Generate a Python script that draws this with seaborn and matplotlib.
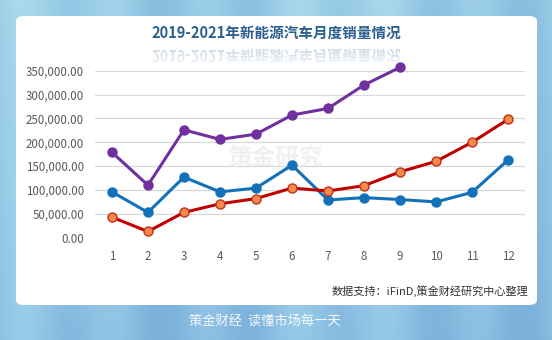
import numpy as np
import pandas as pd
import matplotlib
matplotlib.use("Agg")
import matplotlib.pyplot as plt
from matplotlib.patches import FancyBboxPatch
import seaborn as sns

months = list(range(1, 13))
sales_2019 = [96000, 53000, 127000, 96000, 104000, 152000, 79000, 84000, 80000, 75000, 95000, 163000]
sales_2020 = [43000, 13000, 53000, 71000, 82000, 104000, 98000, 109000, 138000, 160000, 200000, 248000]
sales_2021 = [179000, 110000, 226000, 206000, 217000, 257000, 271000, 320000, 357000]
yticks = [0, 50000, 100000, 150000, 200000, 250000, 300000, 350000]
title = "2019-2021年新能源汽车月度销量情况"
source = "数据支持：iFinD,策金财经研究中心整理"
slogan = "策金财经  读懂市场每一天"
watermark = "策金研究"

sns.set_theme(style="white")
plt.rcParams['font.family'] = ['Noto Sans CJK SC', 'DejaVu Sans']

W, H = 552, 340
TITLE_FS = 10.5
TITLE_COLOR = '#2B5F8E'

# --- reflection of the title, rendered off-screen and flipped
tmp = plt.figure(figsize=(W / 100, 0.3), dpi=100)
tmp.patch.set_alpha(0)
tmp.text(0.5, 0.5, title, ha='center', va='center', fontsize=TITLE_FS,
         fontweight='bold', color=TITLE_COLOR)
tmp.canvas.draw()
refl = np.asarray(tmp.canvas.buffer_rgba()).astype(float) / 255.0
plt.close(tmp)
refl = refl[::-1].copy()
rh = refl.shape[0]
fade = np.linspace(0.35, 0.0, rh)[:, None]
refl[:, :, 3] *= fade

fig = plt.figure(figsize=(W / 100, H / 100), dpi=100)

# background gradient
bg = fig.add_axes([0, 0, 1, 1], zorder=0)
xs = np.linspace(0, 1, W)
ys = np.linspace(0, 1, H)
base = np.array([0.60, 0.80, 0.90])
stripe = 0.04 * np.sin(xs * 38) + 0.03 * np.sin(xs * 11 + 1.0)
img = np.zeros((H, W, 3))
for c in range(3):
    img[:, :, c] = base[c] + stripe[None, :] * (0.8 if c < 2 else 0.4) - 0.06 * ys[:, None] * (1 if c < 2 else 0.3)
img = np.clip(img, 0, 1)
bg.imshow(img, aspect='auto', extent=[0, 1, 0, 1])
bg.set_axis_off()

# white card
card = FancyBboxPatch((16 / W, (H - 305) / H), (537 - 16) / W, (305 - 16) / H,
                      boxstyle="round,pad=0,rounding_size=0.015",
                      transform=fig.transFigure, facecolor="white", edgecolor="none", zorder=1)
fig.patches.append(card)

# title
fig.text(0.5, 1 - 33 / H, title, ha='center', va='center', fontsize=TITLE_FS,
         fontweight='bold', color=TITLE_COLOR, zorder=3)

ax = fig.add_axes([95 / W, (H - 237.7) / H, (525 - 95) / W, (237.7 - 70.7) / H], zorder=2)
ax.patch.set_alpha(0)

df = pd.concat([
    pd.DataFrame({'month': months, 'sales': sales_2019, 'year': '2019'}),
    pd.DataFrame({'month': months, 'sales': sales_2020, 'year': '2020'}),
    pd.DataFrame({'month': months[:len(sales_2021)], 'sales': sales_2021, 'year': '2021'}),
])

styles = {
    '2019': dict(color='#1271B8', markerfacecolor='#1271B8', markeredgecolor='#1271B8'),
    '2020': dict(color='#C00000', markerfacecolor='#F58A4B', markeredgecolor='#C0301A'),
    '2021': dict(color='#7030A0', markerfacecolor='#7030A0', markeredgecolor='#7030A0'),
}
for yr in ['2021', '2019', '2020']:
    d = df[df.year == yr]
    sns.lineplot(data=d, x='month', y='sales', ax=ax, marker='o', markersize=6.5,
                 linewidth=2.2, markeredgewidth=1, legend=False, clip_on=False, **styles[yr])

ax.set_xlim(0.53, 12.47)
ax.set_ylim(0, 350000)
ax.set_yticks(yticks)
ax.set_yticklabels([f"{v:,.2f}" for v in yticks])
ax.set_xticks(months)
ax.set_xticklabels([str(m) for m in months])
ax.grid(axis='y', color='#D9D9D9', linewidth=0.9)
ax.set_axisbelow(True)
for s in ax.spines.values():
    s.set_visible(False)
ax.tick_params(axis='both', length=0, labelsize=8.3, labelcolor='#595959')
ax.tick_params(axis='y', pad=8)
ax.tick_params(axis='x', pad=9)
ax.set_xlabel('')
ax.set_ylabel('')

# watermark
fig.text(0.5, 1 - 158 / H, watermark, ha='center', va='center', fontsize=17,
         fontweight='bold', color='#EDEDED', alpha=0.8, zorder=1.5, style='italic')

fig.text(528 / W, 1 - 291 / H, source, ha='right', va='center', fontsize=8, color='#333333', zorder=3)
fig.text(0.48, 1 - 322 / H, slogan, ha='center', va='center', fontsize=9.5, color='white', alpha=0.9, zorder=3)

# place flipped reflection just below the title
yo = int(H - 40 - rh)
fig.figimage(refl, xo=0, yo=yo + 0, zorder=3, origin='upper')

fig.savefig('out.png', dpi=100)
